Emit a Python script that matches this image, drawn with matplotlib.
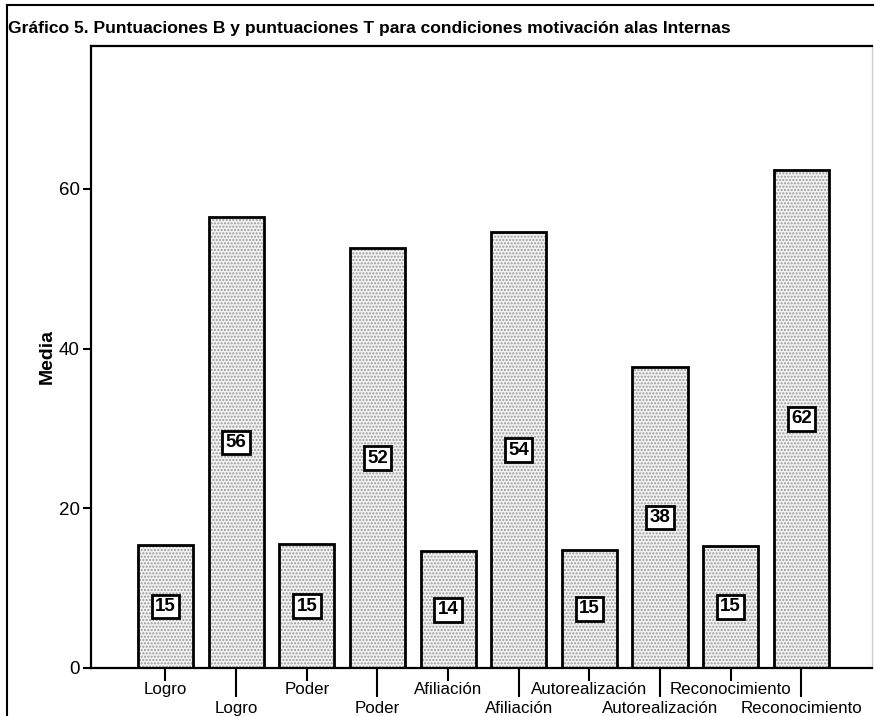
import matplotlib
matplotlib.use("Agg")
import matplotlib.pyplot as plt
from matplotlib.lines import Line2D
import numpy as np

categories = ["Logro", "Logro", "Poder", "Poder", "Afiliación", "Afiliación",
              "Autorealización", "Autorealización", "Reconocimiento", "Reconocimiento"]
values = [15.4, 56.5, 15.5, 52.6, 14.6, 54.6, 14.8, 37.7, 15.3, 62.4]
labels = ["15", "56", "15", "52", "14", "54", "15", "38", "15", "62"]
yticks = [0, 20, 40, 60]

fig = plt.figure(figsize=(8.74, 7.16), dpi=100)
ax = fig.add_axes([91/874, 48/716, 781/874, 622/716])

x = np.arange(len(values))
ax.bar(x, values, width=0.78, color="#f2f2f2", hatch=".....", edgecolor="#999999",
       linewidth=0, zorder=2)
ax.bar(x, values, width=0.78, fill=False, edgecolor="black", linewidth=2, zorder=3)

for xi, v, lab in zip(x, values, labels):
    ax.text(xi, v / 2, lab, ha="center", va="center", fontsize=13.5,
            family="Liberation Sans", fontweight="bold", zorder=4,
            bbox=dict(boxstyle="square,pad=0.18", facecolor="white",
                      edgecolor="black", linewidth=2))

ax.set_xlim(-1.054, 10.0)
ax.set_ylim(0, 77.9)

ax.set_xticks(x[0::2])
ax.set_xticklabels(categories[0::2])
ax.set_xticks(x[1::2], minor=True)
ax.set_xticklabels(categories[1::2], minor=True)
ax.tick_params(axis="x", which="major", direction="out", length=9, width=1.5, pad=1,
               labelsize=12.2)
ax.tick_params(axis="x", which="minor", direction="out", length=21, width=1.5, pad=2.5,
               labelsize=12.2)
for t in ax.get_xticklabels(which="both"):
    t.set_family("Liberation Sans")

ax.set_yticks(yticks)
ax.set_yticklabels([str(v) for v in yticks])
ax.tick_params(axis="y", direction="out", length=6, width=1.5, pad=2, labelsize=13.5)
for t in ax.get_yticklabels():
    t.set_family("Liberation Sans")

ax.set_ylabel("Media", fontsize=14, fontweight="bold", family="Liberation Sans", labelpad=2)

for s in ["left", "bottom", "top"]:
    ax.spines[s].set_linewidth(1.6)
ax.spines["right"].set_color("#cccccc")
ax.spines["right"].set_linewidth(1)

fig.text(8/874, 1 - 28/716, "Gráfico 5. Puntuaciones B y puntuaciones T para condiciones motivación alas Internas",
         fontsize=12.6, fontweight="bold", family="Liberation Sans", ha="left", va="center")

# outer frame
fig.add_artist(Line2D([7/874, 1], [1 - 5/716, 1 - 5/716], color="black", linewidth=1.5))
fig.add_artist(Line2D([7/874, 7/874], [0, 1 - 5/716], color="black", linewidth=1.5))

fig.savefig("out.png", dpi=100)
